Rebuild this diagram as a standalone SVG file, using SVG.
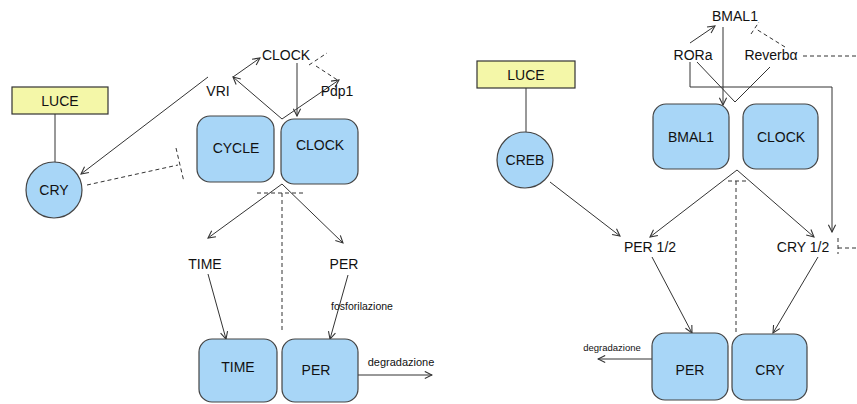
<svg xmlns="http://www.w3.org/2000/svg" width="857" height="404" viewBox="0 0 857 404">
<defs>
<marker id="ah" viewBox="0 0 10 10" refX="9" refY="5" markerWidth="9" markerHeight="9" orient="auto" markerUnits="userSpaceOnUse">
<path d="M1,1 L9,5 L1,9" fill="none" stroke="#333" stroke-width="1.2"/>
</marker>
<style>
.box{fill:#a8d6f7;stroke:#444;stroke-width:1.2}
.luce{fill:#f4f7a8;stroke:#333;stroke-width:1.2}
.t{font-family:"Liberation Sans",Arial,sans-serif;font-size:14px;fill:#111;text-anchor:middle}
.s{font-family:"Liberation Sans",Arial,sans-serif;font-size:10.5px;fill:#111;text-anchor:middle}
.l{fill:none;stroke:#333;stroke-width:1}
.a{fill:none;stroke:#333;stroke-width:1;marker-end:url(#ah)}
.d{fill:none;stroke:#333;stroke-width:1;stroke-dasharray:4,3}
</style>
</defs>
<rect width="857" height="404" fill="#fff"/>

<g id="connectors">
<!-- left -->
<line class="l" x1="55" y1="114" x2="55" y2="162"/>
<line class="a" x1="208" y1="77" x2="81" y2="174"/>
<line class="d" x1="87" y1="185" x2="178" y2="165"/>
<line class="d" x1="176" y1="148" x2="184" y2="182"/>
<line class="a" x1="233" y1="77" x2="260" y2="58"/>
<line class="a" x1="282" y1="119" x2="233" y2="77"/>
<line class="a" x1="282" y1="119" x2="339" y2="80"/>
<line class="d" x1="316" y1="66" x2="339" y2="81"/>
<line class="d" x1="309" y1="65" x2="327" y2="53"/>
<line class="a" x1="297" y1="63" x2="297" y2="116"/>
<line class="a" x1="282" y1="184" x2="208" y2="238"/>
<line class="a" x1="282" y1="184" x2="343" y2="243"/>
<line class="d" x1="257" y1="193" x2="305" y2="193"/>
<line class="d" x1="282" y1="193" x2="282" y2="330"/>
<line class="a" x1="208" y1="274" x2="226" y2="339"/>
<line class="a" x1="348" y1="275" x2="330" y2="339"/>
<line class="a" x1="358" y1="375" x2="432" y2="375"/>
<!-- right -->
<line class="l" x1="526" y1="88" x2="526" y2="132"/>
<line class="a" x1="550" y1="182" x2="620" y2="236"/>
<line class="a" x1="690" y1="43" x2="715" y2="26"/>
<line class="d" x1="785" y1="47" x2="756" y2="29"/>
<line class="d" x1="751" y1="34" x2="759" y2="22"/>
<line class="d" x1="803" y1="56" x2="857" y2="56"/>
<line class="a" x1="723" y1="27" x2="723" y2="105"/>
<polyline class="a" points="690,62 690,87 832,87 832,232"/>
<polyline class="l" points="697,62 735,102 770,67"/>
<line class="a" x1="737" y1="170" x2="650" y2="237"/>
<line class="a" x1="737" y1="170" x2="814" y2="237"/>
<line class="d" x1="728" y1="181" x2="748" y2="181"/>
<line class="d" x1="736" y1="181" x2="736" y2="334"/>
<line class="d" x1="838" y1="238" x2="838" y2="254"/>
<line class="d" x1="838" y1="248" x2="857" y2="248"/>
<line class="a" x1="652" y1="257" x2="692" y2="333"/>
<line class="a" x1="818" y1="257" x2="773" y2="333"/>
<line class="a" x1="652" y1="359" x2="598" y2="359"/>
</g>

<g id="luce1"><rect class="luce" x="12" y="87" width="96" height="27"/><text class="t" x="60" y="106">LUCE</text></g>
<g id="cry1"><circle class="box" cx="54" cy="190" r="28"/><text class="t" x="54" y="195">CRY</text></g>
<g id="clock-label"><text class="t" x="286" y="60">CLOCK</text></g>
<g id="vri"><text class="t" x="218" y="96">VRI</text></g>
<g id="pdp1"><text class="t" x="337" y="96">Pdp1</text></g>
<g id="cycle"><rect class="box" x="197" y="116" width="77" height="66" rx="13"/><text class="t" x="236" y="153">CYCLE</text></g>
<g id="clock1"><rect class="box" x="281" y="119" width="77" height="65" rx="13"/><text class="t" x="320" y="150">CLOCK</text></g>
<g id="time-label"><text class="t" x="205" y="269">TIME</text></g>
<g id="per-label"><text class="t" x="344" y="269">PER</text></g>
<g id="fosfo"><text class="s" x="362" y="310">fosforilazione</text></g>
<g id="time-box"><rect class="box" x="199" y="339" width="78" height="63" rx="13"/><text class="t" x="238" y="372">TIME</text></g>
<g id="per-box1"><rect class="box" x="282" y="339" width="76" height="63" rx="13"/><text class="t" x="316" y="375">PER</text></g>
<g id="degr1"><text class="s" x="401" y="366" style="font-size:11px">degradazione</text></g>

<g id="luce2"><rect class="luce" x="477" y="61" width="98" height="27"/><text class="t" x="526" y="80">LUCE</text></g>
<g id="creb"><circle class="box" cx="525" cy="160" r="28"/><text class="t" x="525" y="165">CREB</text></g>
<g id="bmal-label"><text class="t" x="735" y="21">BMAL1</text></g>
<g id="rora"><text class="t" x="693" y="60">RORa</text></g>
<g id="reverb"><text class="t" x="771" y="60">Reverbα</text></g>
<g id="bmal-box"><rect class="box" x="653" y="104" width="76" height="65" rx="13"/><text class="t" x="691" y="142">BMAL1</text></g>
<g id="clock2"><rect class="box" x="743" y="104" width="75" height="65" rx="13"/><text class="t" x="781" y="142">CLOCK</text></g>
<g id="per12"><text class="t" x="650" y="252">PER 1/2</text></g>
<g id="cry12"><text class="t" x="803" y="252">CRY 1/2</text></g>
<g id="per-box2"><rect class="box" x="652" y="333" width="76" height="67" rx="13"/><text class="t" x="690" y="375">PER</text></g>
<g id="cry-box2"><rect class="box" x="732" y="334" width="75" height="66" rx="13"/><text class="t" x="770" y="375">CRY</text></g>
<g id="degr2"><text class="s" x="612" y="351" style="font-size:9.5px">degradazione</text></g>
</svg>
